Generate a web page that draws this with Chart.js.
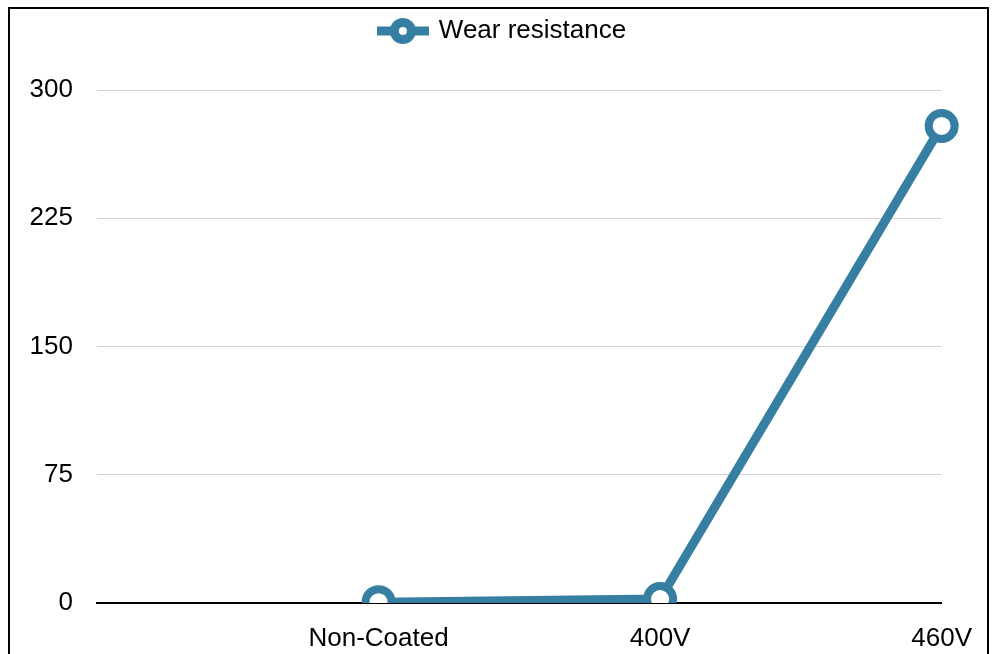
<!DOCTYPE html>
<html>
<head>
<meta charset="utf-8">
<script src="https://cdn.jsdelivr.net/npm/chart.js@4.4.1/dist/chart.umd.min.js"></script>
<style>
  body { margin: 0; background: #fff; }
  #wrap { width: 992px; height: 654px; position: relative; }
</style>
</head>
<body>
<div id="wrap"><canvas id="wearChart" width="992" height="654"></canvas></div>
<script>
// chart data
const categories = ['', 'Non-Coated', '400V', '460V'];
const wearValues = [null, 0.5, 2.3, 279];
const yTicks = [0, 75, 150, 225, 300];

const lineColor = '#367fa2';
const fontFamily = '"Liberation Sans", Arial, sans-serif';

// legend marker: short thick line with a hollow circle
const marker = document.createElement('canvas');
marker.width = 52;
marker.height = 30;
(function() {
    const c = marker.getContext('2d');
    c.strokeStyle = lineColor;
    c.lineWidth = 9;
    c.beginPath();
    c.moveTo(0, 15);
    c.lineTo(52, 15);
    c.stroke();
    c.fillStyle = '#fff';
    c.lineWidth = 9;
    c.beginPath();
    c.arc(26, 15, 8.5, 0, Math.PI * 2);
    c.fill();
    c.stroke();
})();

const framePlugin = {
    id: 'frame',
    afterDraw(chart) {
        const c = chart.ctx;
        c.save();
        c.strokeStyle = '#000';
        c.lineWidth = 2;
        c.strokeRect(9, 8, 979, 700);
        c.restore();
    }
};

// push the plot area down below the legend
const legendSpace = {
    id: 'legendSpace',
    beforeInit(chart) {
        const origFit = chart.legend.fit;
        chart.legend.fit = function() {
            origFit.bind(chart.legend)();
            this.height = 90;
        };
    }
};

const ctx = document.getElementById('wearChart').getContext('2d');

new Chart(ctx, {
    type: 'line',
    data: {
        labels: categories,
        datasets: [{
            label: 'Wear resistance',
            data: wearValues,
            borderColor: lineColor,
            borderWidth: 9,
            backgroundColor: '#fff',
            pointRadius: 13,
            pointBorderWidth: 8,
            pointBorderColor: lineColor,
            pointBackgroundColor: '#fff',
            pointHoverRadius: 13,
            tension: 0
        }]
    },
    options: {
        responsive: false,
        animation: false,
        layout: {
            padding: { top: 0, right: 0, left: 14, bottom: 0 }
        },
        plugins: {
            legend: {
                position: 'top',
                labels: {
                    usePointStyle: true,
                    pointStyle: marker,
                    pointStyleWidth: 46,
                    color: '#000',
                    font: { family: fontFamily, size: 26 },
                    padding: 18
                }
            },
            tooltip: { enabled: false }
        },
        scales: {
            x: {
                offset: false,
                grid: { display: false, drawTicks: false },
                border: { display: true, color: '#000', width: 2 },
                ticks: {
                    color: '#000',
                    padding: 20,
                    maxRotation: 0,
                    font: { family: fontFamily, size: 26 }
                },
                afterFit(scale) { scale.height = 51; }
            },
            y: {
                min: 0,
                max: 300,
                afterBuildTicks(scale) {
                    scale.ticks = yTicks.map(v => ({ value: v }));
                },
                grid: {
                    drawTicks: false,
                    color: c => c.tick && c.tick.value === 0 ? '#000' : '#d0d0d0',
                    lineWidth: c => c.tick && c.tick.value === 0 ? 2 : 1
                },
                border: { display: false },
                ticks: {
                    color: '#000',
                    padding: 24,
                    font: { family: fontFamily, size: 26 }
                },
                afterFit(scale) { scale.width = 83; }
            },
            // empty right-hand spacer so the plot ends where the reference does
            yRight: {
                position: 'right',
                min: 0,
                max: 300,
                grid: { display: false, drawTicks: false },
                border: { display: false },
                ticks: { display: false },
                afterFit(scale) { scale.width = 44; }
            }
        }
    },
    plugins: [framePlugin, legendSpace]
});
</script>
</body>
</html>
